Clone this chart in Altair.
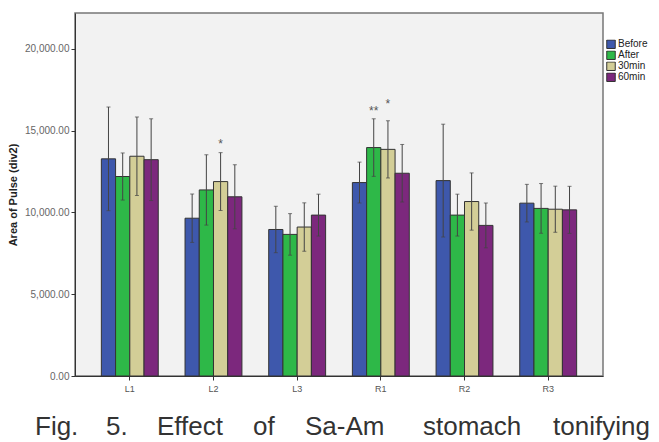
import altair as alt
import pandas as pd

# Regions and measurement times
regions = ["L1", "L2", "L3", "R1", "R2", "R3"]
series = ["Before", "After", "30min", "60min"]
colors = ["#3E58AC", "#2EB848", "#D3CE97", "#7C287D"]

# Mean area of pulse per region, one list per time point
mean_before = [13280, 9650, 8960, 11830, 11950, 10570]
mean_after = [12200, 11380, 8660, 13970, 9840, 10250]
mean_30 = [13440, 11890, 9110, 13860, 10670, 10200]
mean_60 = [13230, 10960, 9840, 12400, 9210, 10160]

# Half-width of the error bars
err_before = [3170, 1480, 1420, 1250, 3450, 1150]
err_after = [1440, 2150, 1270, 1760, 1280, 1520]
err_30 = [2400, 1770, 1480, 1750, 1750, 1410]
err_60 = [2500, 1960, 1280, 1760, 1370, 1440]

# Significance marks
star_region = ["L2", "R1", "R1"]
star_series = ["30min", "After", "30min"]
star_text = ["*", "**", "*"]
star_level = [14208, 16178, 16630]

y_ticks = [0, 5000, 10000, 15000, 20000]
caption_words = ["Fig.", "5.", "Effect", "of", "Sa-Am", "stomach", "tonifying"]
caption_left = [35, 106, 157, 253, 305, 423, 553]

means = [mean_before, mean_after, mean_30, mean_60]
errs = [err_before, err_after, err_30, err_60]
rows = []
for s, m_list, e_list in zip(series, means, errs):
    for r, m, e in zip(regions, m_list, e_list):
        rows.append({"region": r, "series": s, "mean": m, "lo": m - e, "hi": m + e})
df = pd.DataFrame(rows)
stars = pd.DataFrame({"region": star_region, "series": star_series,
                      "label": star_text, "level": star_level})

PAD_L, PAD_T, W, H = 75, 13, 528, 363

x_enc = alt.X("region:N", sort=regions,
              scale=alt.Scale(paddingInner=0.32, paddingOuter=0.315),
              axis=alt.Axis(title=None, labelAngle=0, tickSize=4, labelFontSize=9,
                            labelColor="#555", tickColor="#333", domainColor="#333",
                            labelPadding=4))
xo_enc = alt.XOffset("series:N", sort=series,
                     scale=alt.Scale(domain=series, paddingInner=0, paddingOuter=0))
y_scale = alt.Scale(domain=[0, 22200], nice=False, zero=True)

bars = alt.Chart(df).mark_bar(stroke="#333", strokeWidth=1).encode(
    x=x_enc,
    xOffset=xo_enc,
    y=alt.Y("mean:Q", scale=y_scale,
            axis=alt.Axis(title="Area of Pulse (div2)", values=y_ticks, format=",.2f",
                          grid=False, tickSize=4, labelFontSize=10, labelColor="#666",
                          tickColor="#333", domainColor="#333", titleFontSize=11,
                          titleFontWeight="bold", titleColor="#222", titlePadding=6)),
    color=alt.Color("series:N", sort=series,
                    scale=alt.Scale(domain=series, range=colors),
                    legend=alt.Legend(title=None, orient="none", legendX=531, legendY=26.5,
                                      symbolType="square", symbolSize=72,
                                      symbolStrokeColor="#333", symbolStrokeWidth=1,
                                      labelFontSize=10, labelColor="#222",
                                      clipHeight=9.5, rowPadding=0, padding=0,
                                      labelOffset=2)),
)

whisk = alt.Chart(df).mark_rule(color="#444", strokeWidth=1).encode(
    x=alt.X("region:N", sort=regions), xOffset=xo_enc,
    y=alt.Y("lo:Q", scale=y_scale), y2="hi:Q")
cap_hi = alt.Chart(df).mark_tick(color="#444", size=4, thickness=1).encode(
    x=alt.X("region:N", sort=regions), xOffset=xo_enc, y=alt.Y("hi:Q", scale=y_scale))
cap_lo = alt.Chart(df).mark_tick(color="#444", size=4, thickness=1).encode(
    x=alt.X("region:N", sort=regions), xOffset=xo_enc, y=alt.Y("lo:Q", scale=y_scale))

star_marks = alt.Chart(stars).mark_text(fontSize=12, color="#555", baseline="middle",
                                        font="Liberation Sans").encode(
    x=alt.X("region:N", sort=regions), xOffset=xo_enc,
    y=alt.Y("level:Q", scale=y_scale), text="label:N")

caption_layers = [
    alt.Chart(pd.DataFrame({"w": [w]})).mark_text(
        fontSize=26, font="Liberation Sans", color="#333", align="left",
        baseline="alphabetic").encode(text="w:N", x=alt.value(xp - PAD_L),
                                      y=alt.value(435 - PAD_T))
    for w, xp in zip(caption_words, caption_left)
]

chart = alt.layer(bars, whisk, cap_hi, cap_lo, star_marks, *caption_layers).properties(
    width=W, height=H,
    autosize=alt.AutoSizeParams(type="none"),
    padding={"left": PAD_L, "top": PAD_T, "right": 659 - PAD_L - W, "bottom": 442 - PAD_T - H},
    background="white",
).configure_view(
    fill="#F2F2F2", stroke="#777", strokeWidth=1.5
).configure_axis(
    labelFont="Liberation Sans", titleFont="Liberation Sans"
).configure_legend(
    labelFont="Liberation Sans"
)

chart.save("out.html", embed_options={"renderer": "svg", "actions": False})
